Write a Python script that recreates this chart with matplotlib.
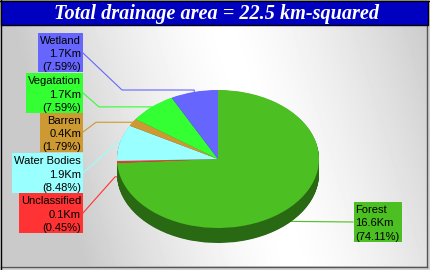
import matplotlib
matplotlib.use("Agg")
import matplotlib.pyplot as plt
import matplotlib.colors as mcolors
from matplotlib.patches import Rectangle
import numpy as np

# ── data ──────────────────────────────────────────────────────────────────────
names = ["Forest", "Unclassified", "Water Bodies", "Barren", "Vegatation", "Wetland"]
area_km = [16.6, 0.1, 1.9, 0.4, 1.7, 1.7]
pct = [74.11, 0.45, 8.48, 1.79, 7.59, 7.59]
colors = ["#4cbf22", "#ff3333", "#99ffff", "#cc9933", "#33ff33", "#6666ff"]
title = "Total drainage area = 22.5 km-squared"

# ── layout (pixels) ───────────────────────────────────────────────────────────
W, H = 430, 270
CX, CY, RX, RY, DEPTH = 218, 159, 101, 69, 15
LINE = 13.3
FS = 8.0
# centre of each label box: (x of text edge, y, ha)
label_pos = [(355.5, 222, "left"), (81, 213, "right"), (81, 173, "right"),
             (81, 132.5, "right"), (81, 93, "right"), (81, 52.5, "right")]
# connector: extra elbow points and end point at the box edge
elbows = [[], [(115, None)], [(117, None)], [(96, None)], [(99, None)],
          [("ax", 90), (122, 90)]]
box_edge = [(353, 222), (83, 213), (83, 173), (83, 132), (83, 93), (83, 53)]

fig = plt.figure(figsize=(W / 100, H / 100), dpi=100)
fig.patch.set_facecolor("#d2d2d2")

bg = fig.add_axes([0, 0, 1, 1])
bg.set_xlim(0, W)
bg.set_ylim(H, 0)
bg.axis("off")

# metallic background gradient
xs = np.arange(1, 427) + 0.5
ys = np.arange(25, 266) + 0.5
X, Y = np.meshgrid(xs, ys)
xc = 215 + 0.3 * Y
v = 1 - 0.21 * np.clip(np.abs(X - xc) / 210, 0, 1) ** 1.4
bg.imshow(v, cmap="gray", vmin=0, vmax=1, extent=(1, 427, 266, 25),
          aspect="auto", interpolation="bilinear", zorder=0)
bg.plot([426.5, 426.5], [25, 266.5], color="#555555", lw=1, zorder=1)
bg.plot([1, 426.5], [266.5, 266.5], color="#555555", lw=1, zorder=1)
bg.plot([0.5, 0.5], [0, H], color="black", lw=1, zorder=1)
bg.plot([0, W], [0.5, 0.5], color="black", lw=1, zorder=1)

# title bar
bg.add_patch(Rectangle((1, 1), 427, 24, fc="#0000c0", ec="black", lw=1, zorder=2))
bg.text(216, 13.5, title, ha="center", va="center", color="white",
        family="Liberation Serif", weight="bold", style="italic", fontsize=14.6,
        zorder=3)

# ── connectors + label texts ──────────────────────────────────────────────────
cum = np.cumsum([0] + pct[:-1])
groups = []
for i, (name, km, p, col) in enumerate(zip(names, area_km, pct, colors)):
    th = 2 * np.pi * (cum[i] + p / 2) / 100
    axp = CX + RX * np.sin(th)
    ayp = CY - RY * np.cos(th)
    if np.cos(th) < 0:
        ayp += DEPTH
    pts = [(axp, ayp)]
    for ex, ey in elbows[i]:
        pts.append((axp if ex == "ax" else ex, ayp if ey is None else ey))
    pts.append(box_edge[i])
    px, py = zip(*pts)
    bg.plot(px, py, color=col, lw=0.8, zorder=2)

    tx, ty, ha = label_pos[i]
    lines = [name, f"{km:.1f}Km", f"({p:.2f}%)"]
    texts = [bg.text(tx, ty - 8.8 + j * LINE, s, ha=ha, va="baseline",
                     color="black", family="Liberation Sans", fontsize=FS,
                     zorder=4)
             for j, s in enumerate(lines)]
    groups.append((texts, ty, col))

# coloured boxes sized to the text
fig.canvas.draw()
rend = fig.canvas.get_renderer()
inv = bg.transData.inverted()
for texts, ty, col in groups:
    xs_ = []
    for t in texts:
        ext = t.get_window_extent(rend)
        (x0, _), (x1, _) = inv.transform([(ext.x0, ext.y0), (ext.x1, ext.y1)])
        xs_ += [x0, x1]
    left, right = min(xs_) - 2, max(xs_) + 2
    bg.add_patch(Rectangle((left, ty - 19.8), right - left, 39.6,
                           fc=col, ec="none", zorder=3))

# ── 3D pie ────────────────────────────────────────────────────────────────────
pa = fig.add_axes([0, 0, 1, 1])
pa.patch.set_alpha(0)
dark = [tuple(np.array(mcolors.to_rgb(c)) * 0.55) for c in colors]
for k in np.linspace(DEPTH, 0.5, 30):
    pa.pie(pct, colors=dark, startangle=90, counterclock=False,
           center=(0, -k / RY), radius=1, wedgeprops=dict(linewidth=0))
pa.pie(pct, colors=colors, startangle=90, counterclock=False,
       center=(0, 0), radius=1, wedgeprops=dict(linewidth=0))
pa.set_aspect("auto")
pa.set_xlim(-CX / RX, (W - CX) / RX)
pa.set_ylim(-(H - CY) / RY, CY / RY)
pa.axis("off")

fig.savefig("out.png", dpi=100)
